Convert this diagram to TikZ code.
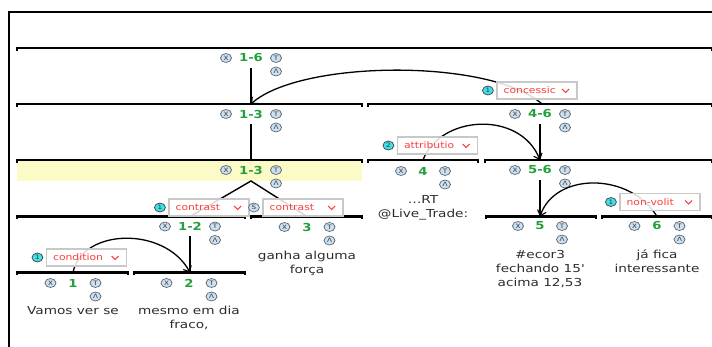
\documentclass[tikz,border=0pt]{standalone}
\usepackage{fontspec}
\setmainfont{DejaVu Sans}[FakeStretch=1.24]
\newfontfamily\narrowfont{DejaVu Sans}[FakeStretch=1.2]
\usetikzlibrary{arrows.meta,shapes.geometric}
\definecolor{rstgreen}{RGB}{34,160,60}
\definecolor{circblue}{RGB}{205,224,242}
\definecolor{circgray}{RGB}{95,105,115}
\definecolor{cyanc}{RGB}{64,224,232}
\definecolor{relred}{RGB}{255,60,60}
\definecolor{boxgray}{RGB}{200,200,200}
\definecolor{textgray}{RGB}{45,45,45}
\definecolor{hiyellow}{RGB}{252,250,198}
\tikzset{
  circ/.style={ellipse, draw=circgray, fill=circblue, line width=0.7pt, minimum width=11pt, minimum height=9pt, inner sep=0pt, text=black!80, font=\narrowfont\fontsize{6}{6}\selectfont},
  ccirc/.style={circ, fill=cyanc, draw=black!75},
  idx/.style={font=\narrowfont\fontsize{11}{13}\selectfont\bfseries, text=rstgreen, inner sep=0pt},
  txt/.style={font=\fontsize{11}{14}\selectfont, text=textgray, align=center, inner sep=0pt, anchor=north},
  spanline/.style={line width=2.2pt, line join=miter},
  vline/.style={line width=1.4pt},
  relarc/.style={line width=1.3pt, -{Straight Barb[length=5pt,width=9pt,line width=1.1pt]}},
  relbox/.style={rectangle, draw=boxgray, line width=1.2pt, fill=white, fill opacity=0.85, minimum width=80pt, minimum height=17pt, inner sep=0pt},
  reltext/.style={text=relred, font=\narrowfont\fontsize{9}{10}\selectfont, inner sep=0pt},
}
\newcommand\rstunit[5]{%
  \node[idx] (#1) at (#2,#3) {#4};
  \node[circ] (#1-x) at (#2-#5,#3) {X};
  \node[circ] (#1-t) at (#2+#5,#3) {T};
  \node[circ] (#1-l) at (#2+#5,#3+13.5) {Λ};
}
\newcommand\rstspan[3]{%
  \draw[spanline] (#1,#3+3) -- (#1,#3) -- (#2,#3) -- (#2,#3+3);
}
\newcommand\rstrel[6]{%
  \node[relbox] (#1) at (#2,#3) {};
  \node[reltext,anchor=west] (#1-txt) at ([xshift=7pt]#1.west) {#4};
  \node[#5] (#1-c) at ([xshift=-8.5pt]#1.west) {#6};
  \draw[relred,line width=1pt] ([xshift=-15.5pt,yshift=1.5pt]#1.east) -- ++(3.5pt,-3.5pt) -- ++(3.5pt,3.5pt);
}
\begin{document}
\begin{tikzpicture}[x=1pt,y=-1pt]
\useasboundingbox (0,0) rectangle (712,347);
% highlight band
\fill[hiyellow] (17,160) rectangle (362,181);
% frame
\draw[line width=1.8pt] (9,347) -- (9,12) -- (712,12);
% spans
\rstspan{17}{712}{48}
\rstspan{17}{362}{104}
\rstspan{368}{712}{104}
\rstspan{17}{362}{160}
\rstspan{368}{478}{160}
\rstspan{485}{712}{160}
\rstspan{17}{245}{216.5}
\rstspan{251}{362}{216.5}
\rstspan{486}{596}{216.5}
\rstspan{602}{712}{216.5}
\rstspan{17}{128}{272.5}
\rstspan{134}{245}{272.5}
% unit headers
\rstunit{u16}{251}{58}{1-6}{25}
\rstunit{u13a}{251}{114}{1-3}{25}
\rstunit{u46}{540}{114}{4-6}{25}
\rstunit{u13b}{251}{170}{1-3}{25}
\rstunit{u4}{423}{171}{4}{22}
\rstunit{u56}{540}{170}{5-6}{25}
\rstunit{u12}{190}{226.5}{1-2}{25}
\rstunit{u3}{307}{227}{3}{22.5}
\rstunit{u5}{540}{226}{5}{22}
\rstunit{u6}{657}{226}{6}{22.5}
\rstunit{u1}{73}{283}{1}{22.5}
\rstunit{u2}{189}{283}{2}{22.5}
% texts
\node[txt] (t4) at (423,195) {…RT\\@Live\_Trade:};
\node[txt] (t3) at (307,251) {ganha alguma\\força};
\node[txt] (t5) at (540,250) {\#ecor3\\fechando 15\textquotesingle\\acima 12,53};
\node[txt] (t6) at (657,250) {já fica\\interessante};
\node[txt] (t1) at (73,306) {Vamos ver se};
\node[txt] (t2) at (189,306) {mesmo em dia\\fraco,};
% attachment coordinates
\coordinate (a16) at (251,68);   \coordinate (s13a) at (251,104);
\coordinate (a13a) at (251,124); \coordinate (s13b) at (251,160);
\coordinate (a46) at (540,124);  \coordinate (s56) at (540,160);
\coordinate (a56) at (540,180);  \coordinate (s5) at (540,216.5);
\coordinate (a12) at (190,236);  \coordinate (s2) at (190,272.5);
\coordinate (a13b) at (251,181); \coordinate (s12) at (190,216.5); \coordinate (s3) at (307,216.5);
\coordinate (s46) at (542,104);  \coordinate (s4) at (423,160);
\coordinate (s6) at (657,216.5); \coordinate (s1) at (73,272.5);
% vertical lines
\draw[vline] (a16) -- (s13a);
\draw[vline] (a13a) -- (s13b);
\draw[vline] (a46) -- (s56);
\draw[vline] (a56) -- (s5);
\draw[vline] (a12) -- (s2);
\draw[vline] (s12) -- (a13b) -- (s3);
% relation arcs
\draw[relarc] (s46) .. controls (490,58) and (300,60) .. (s13a);
\draw[relarc] (s4) .. controls (440,115) and (520,110) .. (s56);
\draw[relarc] (s6) .. controls (630,172) and (555,172) .. (s5);
\draw[relarc] (s1) .. controls (82,228) and (165,226) .. (s2);
% relation boxes
\rstrel{rconc}{537}{90.5}{concessic}{ccirc}{1}
\rstrel{rattr}{437.5}{145.5}{attributio}{ccirc}{2}
\rstrel{rcon1}{209}{207.5}{contrast}{ccirc}{1}
\rstrel{rcon2}{303}{207.5}{contrast}{circ}{S}
\rstrel{rnonv}{660}{202}{non-volit}{ccirc}{1}
\rstrel{rcond}{86.5}{257.5}{condition}{ccirc}{1}
\end{tikzpicture}
\end{document}
